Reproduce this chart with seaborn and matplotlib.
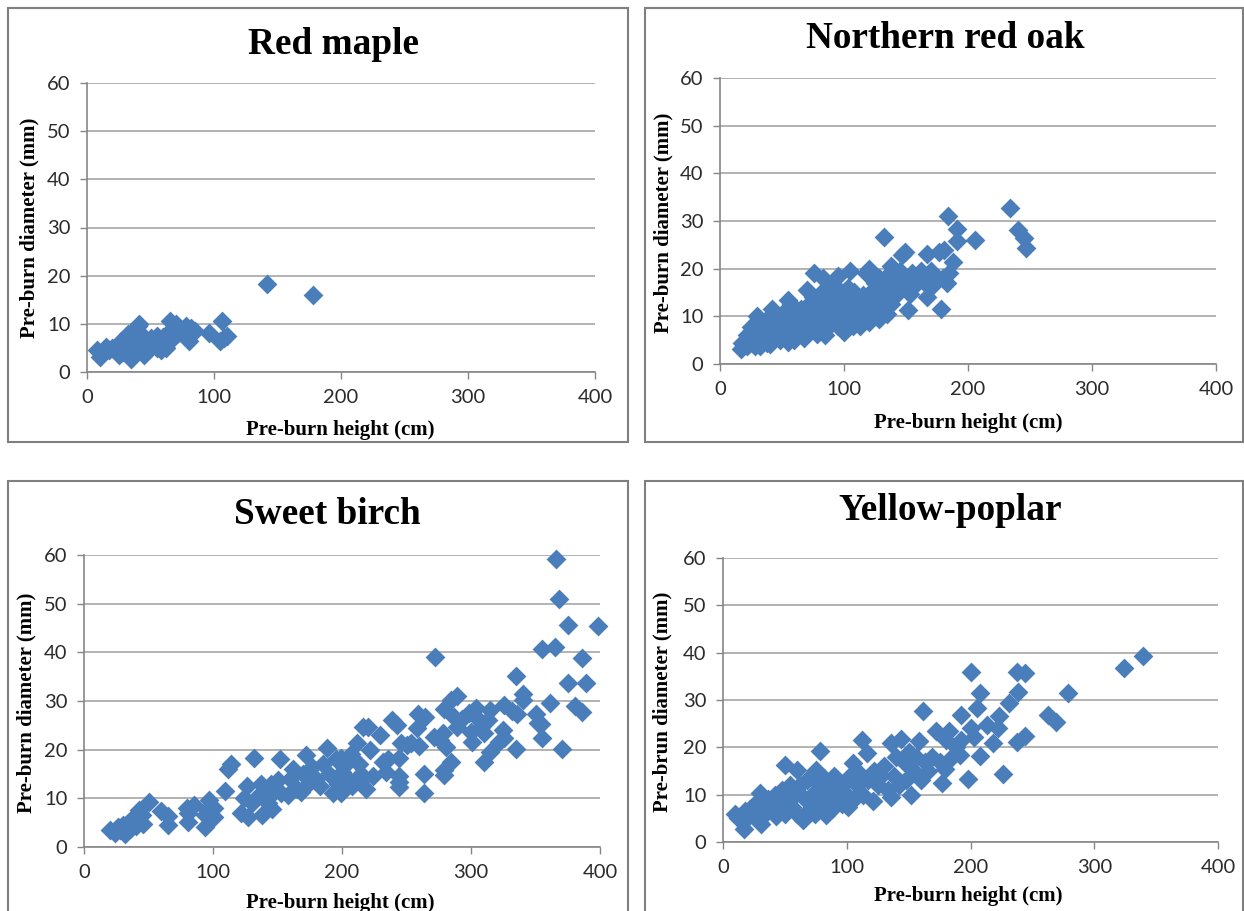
import matplotlib
matplotlib.use('Agg')
import pandas as pd
import matplotlib.pyplot as plt
from matplotlib.patches import Rectangle
import seaborn as sns

# ── Data (height cm, diameter mm) ────────────────────────────
red_maple = [
    (10,3.2),(8,4.5),(12,4.2),(15,5.2),(17,4.5),(20,5),(22,4.5),(25,3.6),(25,5.5),(27,6.5),
    (28,4.2),(30,7),(32,7.8),(33,5),(35,6.3),(35,2.6),(37,7),(38,5),(40,9.5),(41,10),
    (42,8),(43,7),(44,5.5),(45,3.5),(46,6.5),(48,4.5),(50,7),(52,6),(55,5),(55,7.5),
    (57,6.5),(58,4.5),(60,7.3),(62,5),(63,6.2),(65,10.6),(67,9),(68,7),(70,10),(72,8),
    (75,8.5),(78,9.5),(80,8),(80,6.5),(82,9.2),(85,8.5),(96,8),(105,6.5),(106,10.5),(108,7),
    (110,7.5),(142,18.2),(178,16),
]
red_oak = [
    (17,3.2),(18,4.5),(20,4),(22,3.7),(22,6),(24,5),(25,7.8),(26,4.5),(28,3.8),(28,6),
    (30,10),(30,5),(31,7),(32,3.7),(33,8.5),(34,5.5),(36,6.5),(38,9.5),(38,4.5),(40,4.2),
    (40,7.5),(42,11.5),(42,5.5),(44,8.5),(45,6.5),(46,9.5),(48,5),(48,7.5),(50,10.5),(50,6),
    (52,8.5),(53,5.2),(55,13.5),(55,4.7),(55,9.5),(56,7),(57,12.5),(58,11),(60,5),(60,8),
    (60,6.5),(62,10),(63,9),(65,7),(65,11.5),(67,6),(68,5.5),(68,9),(70,15.5),(70,8),
    (70,11),(72,7),(72,12.5),(74,9.5),(75,14),(76,19),(76,8),(78,6.2),(78,11),(80,10),
    (80,13),(80,7.5),(82,15),(83,18),(84,9),(85,6),(85,12),(87,10.5),(88,16.5),(88,8),
    (90,14),(90,11),(92,9),(93,12.5),(95,18.5),(95,8),(96,15.5),(97,10),(98,13),(100,6.8),
    (100,11.5),(100,9),(102,14),(103,16),(104,10),(105,19.5),(105,12.5),(107,8),(108,15),(110,11),
    (110,13),(112,9.5),(113,8),(114,12),(115,14.5),(117,10),(118,19),(118,12.5),(120,20),(120,8.8),
    (120,11),(122,15),(123,13),(125,10),(125,17),(127,12),(128,9.5),(128,18),(130,14),(130,11.5),
    (132,26.7),(132,16),(133,13),(135,10.5),(135,18.5),(136,15),(138,20.5),(138,12.5),(140,17),(142,14.5),
    (143,19),(145,16),(145,19.5),(147,22.9),(149,23.4),(150,18),(152,11.3),(153,14.7),(155,19),(157,16.5),
    (160,18),(162,19.5),(165,17),(167,14.1),(167,23.1),(168,18.5),(170,19.5),(172,16.5),(175,18),(177,23.6),
    (178,11.5),(180,18),(180.5,24),(183,17),(184,31.1),(185,19),(188,21.4),(191,28.4),(191,25.8),(206,26),
    (234,32.8),(240,28.1),(245,26.5),(247,24.3),
]
sweet_birch = [
    (20,3.5),(24,2.8),(26,4.2),(28,3.5),(30,4.6),(32,2.6),(34,5),(36,3.8),(38,6),(40,4.4),
    (42,5.5),(43,7.6),(45,6.5),(46,4.8),(50.6,9.3),(60,7.4),(65,6.4),(65,4.5),(81,5.2),(80,8),
    (85,8.6),(81,7),(93.5,4.2),(95.5,7.6),(94,6.6),(97,9.7),(100.8,8),(101,6.2),(109,11.6),(111.6,16),
    (114,17),(121.5,7),(124,10),(126.7,12.5),(127,6.2),(130,9),(132,18.2),(134.5,10.4),(137,13),(138,6.6),
    (140,11.5),(143,9),(145,13),(145,10.7),(146,7.8),(150,13.8),(152,18.1),(153,11),(158,10.7),(160,14),
    (162,16),(165,12),(168,11.4),(170,15),(172,19),(174,13),(177,16.5),(180,14),(183,12.5),(185,17),
    (188,20.3),(190,15),(193,11),(195,18),(197,13),(199.6,18.2),(199.6,11),(200,15.5),(203,17),(205,14),
    (207,19.2),(208,12.5),(212,21.3),(213,17),(215,15),(216,24.6),(216,14.1),(218.5,12),(220,24.7),(222,20),
    (224,14.5),(229.7,23),(231.5,17.5),(234,15.5),(236,18),(239,26),(243,25),(244,18.2),(244.4,14.5),(244.4,13.4),
    (244.4,12.3),(245.7,21.3),(250,21),(253.4,21.3),(258,24.4),(258.6,27.3),(260,20.8),(263.7,15.1),(263.7,11),(264.5,26.8),
    (271.5,22.7),(272,39),(276,22),(278,23.4),(278.7,28.4),(278.7,14.8),(279,15.8),(280.5,20.6),(284.4,30.2),(284.4,17.5),
    (287,26.8),(289,31),(289.5,24.7),(293.4,26.4),(298.6,27.5),(300,23.7),(300.4,21.6),(303.7,28.5),(306,26),(307.6,24.7),
    (310,23.4),(310,17.5),(312.8,26),(315,28.2),(315,19.6),(322,21.6),(325,24),(325.7,22.3),(325.7,29.2),(332,28),
    (335,20.1),(335.2,35.2),(335.5,27.3),(340,31.4),(340,30.2),(350.7,27.3),(352,25.4),(354.6,25.2),(354.8,22.5),(354.8,40.7),
    (361,29.5),(365,41),(366,59.1),(368.5,51),(370.8,20.1),(375.5,45.6),(375.5,33.6),(380.6,29),(385.8,38.9),(386.3,27.7),
    (389,33.8),(398.7,45.4),
]
yellow_poplar = [
    (9.4,6),(12,5),(15,4.6),(17,2.7),(18,6.5),(20,5.2),(22,7),(24,5.8),(26,8),(28,6.5),
    (30,10.3),(30.5,3.8),(32,8.5),(34,6),(36,9),(38,7),(40,8),(42,10),(43,5.4),(46,7.5),
    (48,11),(50,16.2),(50,6),(52,9),(54,12),(56,7.5),(58,10),(60,15.3),(60,6),(62,12),
    (64.7,4.7),(66,9),(68,13),(70,7),(72,10),(74,6),(75.5,15.3),(78,19.3),(78,12),(80,8),
    (82,13.5),(83.5,5.7),(85,10),(87,12),(88,7),(90,14),(92,9),(94,11),(96,8),(98,12.5),
    (100,10),(101,7.5),(103,14),(105,16.7),(106,9),(108,12),(110,14.5),(112,21.5),(113,10),(116,18.8),
    (117,13),(121,8.6),(122,15),(125,12),(128,14),(130,16),(133,11),(136,20.9),(136,9.6),(138,14),
    (140,18),(142,12),(144,21.8),(146,17),(148,13),(150,19),(152,10),(154,15),(156,18),(158,21.3),
    (160,13),(161.7,27.6),(163,17),(166,15),(169,18),(172.5,23.4),(175,17),(177,12.4),(179,15.5),(180.6,21.6),
    (183,23.4),(185,18),(188,20),(191.4,18.4),(192.7,26.9),(192.7,21.6),(198,13.4),(200,35.9),(200,24.1),(202.7,22.2),
    (205.4,28.3),(207.5,31.5),(207.5,18.2),(213,24.8),(218,21),(222.4,24.1),(223,26.6),(226,14.3),(231,29.4),(237.7,36),
    (237.7,21.2),(238,31.7),(244,35.8),(244,22.5),(262.8,26.9),(269,25.4),(278.7,31.4),(324.3,36.7),(339.4,39.3),
]

x_ticks = [0, 100, 200, 300, 400]
y_ticks = [0, 10, 20, 30, 40, 50, 60]
x_label = "Pre-burn height (cm)"

# title, points, y label, frame (l,t,r,b), axes (x0,x400,y60,y0), title xy, xlabel xy, ylabel x, ylabel y  (all px)
panels = [
    ("Red maple", red_maple, "Pre-burn diameter (mm)", (8,8,628,442), (87,595,83,372), (334,44), (340,430), 29, 228),
    ("Northern red oak", red_oak, "Pre-burn diameter (mm)", (645,8,1243,442), (720,1216,78,364), (945,39), (968,423), 663, 223),
    ("Sweet birch", sweet_birch, "Pre-burn diameter (mm)", (8,481,628,930), (84,600,555,847), (327,515), (340,903), 26, 703),
    ("Yellow-poplar", yellow_poplar, "Pre-brun diameter (mm)", (645,481,1243,930), (723,1218,558,842), (950,510), (968,896), 662, 702),
]

# ── Style ─────────────────────────────────────────────────────
sns.set_theme(style="white")
plt.rcParams['font.family'] = ['Lato', 'DejaVu Sans']
W, H = 1244, 911
SERIF = ['Liberation Serif', 'DejaVu Serif']

fig = plt.figure(figsize=(W/100, H/100), dpi=100, facecolor='white')

for title, pts, y_label, frame, box, title_xy, xlab_xy, ylab_x, ylab_y in panels:
    l, t, r, b = frame
    fig.add_artist(Rectangle((l/W, 1-b/H), (r-l)/W, (b-t)/H, transform=fig.transFigure,
                             fill=False, edgecolor='#7f7f7f', linewidth=1.5))

    x0, x1, y_top, y_bot = box
    ax = fig.add_axes([x0/W, 1-y_bot/H, (x1-x0)/W, (y_bot-y_top)/H])
    df = pd.DataFrame(pts, columns=['height', 'diameter'])
    sns.scatterplot(data=df, x='height', y='diameter', ax=ax, marker='D', s=102,
                    color='#4A7EBB', linewidth=0, clip_on=False, zorder=3)
    ax.set_xlim(0, 400)
    ax.set_ylim(0, 60)
    ax.set_xticks(x_ticks)
    ax.set_yticks(y_ticks)
    ax.set_xlabel("")
    ax.set_ylabel("")
    ax.grid(axis='y', color='#a6a6a6', linewidth=1.2)
    ax.set_axisbelow(True)
    sns.despine(ax=ax)
    for side in ['left', 'bottom']:
        ax.spines[side].set_color('#868686')
        ax.spines[side].set_linewidth(1.2)
    ax.tick_params(axis='both', length=5, width=1, color='#868686', labelsize=14.5,
                   labelcolor='#2b2b2b', pad=7, bottom=True, left=True)

    fig.text(title_xy[0]/W, 1-title_xy[1]/H, title, ha='center', va='center',
             family=SERIF, fontweight='bold', fontsize=26.8, color='black')
    fig.text(xlab_xy[0]/W, 1-xlab_xy[1]/H, x_label, ha='center', va='center',
             family=SERIF, fontweight='bold', fontsize=15, color='black')
    fig.text(ylab_x/W, 1-ylab_y/H, y_label, ha='center', va='center', rotation=90,
             family=SERIF, fontweight='bold', fontsize=15, color='black')

fig.savefig("out.png", dpi=100)
